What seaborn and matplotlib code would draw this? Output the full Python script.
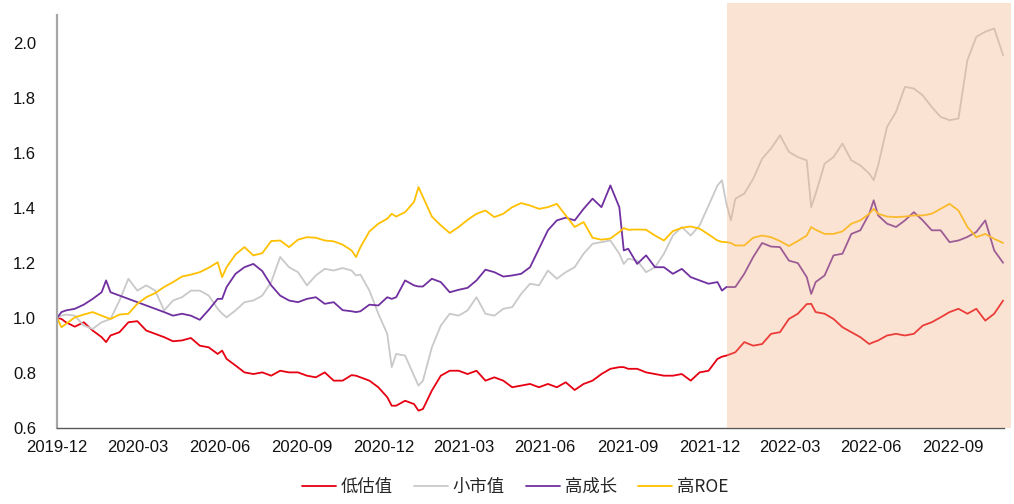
import numpy as np
import pandas as pd
import matplotlib
matplotlib.use("Agg")
import matplotlib.pyplot as plt
import matplotlib.dates as mdates
import seaborn as sns

# ---------------------------------------------------------------------------
# Data (day offsets from 2019-12-31)
# ---------------------------------------------------------------------------
start_date = "2019-12-31"
shade_start = "2022-01-20"

days = [0, 5, 10, 20, 30, 40, 50, 55, 60, 70, 80, 90, 100, 110, 120, 130, 140, 150,
        160, 170, 180, 185, 190, 200, 210, 220, 230, 240, 250, 260, 270, 280, 290,
        300, 310, 320, 330, 335, 340, 350, 360, 370, 375, 380, 390, 400, 405, 410,
        420, 430, 440, 450, 460, 470, 480, 490, 500, 510, 520, 530, 540, 550, 560,
        570, 580, 590, 600, 610, 620, 630, 635, 640, 650, 660, 670, 680, 690, 700,
        710, 720, 730, 740, 745, 750, 755, 760, 770, 780, 790, 800, 810, 820, 830,
        840, 845, 850, 860, 870, 880, 890, 900, 910, 915, 920, 930, 940, 950, 960,
        970, 980, 990, 1000, 1010, 1020, 1030, 1040, 1050, 1060]

low_val = [1.000, 0.996, 0.984, 0.968, 0.984, 0.954, 0.930, 0.912, 0.936, 0.948, 0.984,
           0.988, 0.954, 0.942, 0.930, 0.915, 0.918, 0.927, 0.899, 0.893, 0.869, 0.881,
           0.851, 0.827, 0.802, 0.796, 0.802, 0.790, 0.808, 0.802, 0.802, 0.790, 0.784,
           0.802, 0.772, 0.772, 0.792, 0.790, 0.784, 0.772, 0.748, 0.712, 0.681, 0.681,
           0.699, 0.687, 0.663, 0.669, 0.736, 0.790, 0.808, 0.808, 0.796, 0.808, 0.772,
           0.784, 0.772, 0.748, 0.754, 0.760, 0.748, 0.760, 0.748, 0.766, 0.738, 0.760,
           0.772, 0.796, 0.815, 0.821, 0.821, 0.815, 0.815, 0.802, 0.796, 0.790, 0.790,
           0.796, 0.772, 0.802, 0.808, 0.851, 0.859, 0.863, 0.869, 0.875, 0.912, 0.899,
           0.905, 0.942, 0.948, 0.996, 1.015, 1.050, 1.051, 1.021, 1.015, 0.996, 0.966,
           0.948, 0.930, 0.905, 0.912, 0.918, 0.936, 0.942, 0.936, 0.942, 0.972, 0.984,
           1.002, 1.021, 1.033, 1.015, 1.033, 0.990, 1.015, 1.063]

small_cap = [1.000, 1.008, 1.012, 1.008, 0.972, 0.960, 0.984, 0.990, 0.996, 1.063, 1.142,
             1.099, 1.118, 1.099, 1.027, 1.063, 1.075, 1.099, 1.099, 1.081, 1.033, 1.015,
             1.002, 1.027, 1.057, 1.063, 1.081, 1.130, 1.221, 1.184, 1.166, 1.118, 1.154,
             1.178, 1.172, 1.181, 1.172, 1.154, 1.157, 1.099, 1.015, 0.942, 0.821, 0.869,
             0.863, 0.790, 0.754, 0.772, 0.893, 0.972, 1.015, 1.008, 1.027, 1.075, 1.015,
             1.008, 1.033, 1.039, 1.087, 1.124, 1.118, 1.172, 1.142, 1.166, 1.184, 1.233,
             1.269, 1.275, 1.281, 1.233, 1.196, 1.215, 1.208, 1.166, 1.184, 1.233, 1.299,
             1.330, 1.299, 1.336, 1.408, 1.481, 1.500, 1.415, 1.354, 1.433, 1.451, 1.505,
             1.578, 1.615, 1.663, 1.603, 1.584, 1.572, 1.402, 1.451, 1.560, 1.584, 1.633,
             1.572, 1.554, 1.524, 1.500, 1.554, 1.694, 1.748, 1.839, 1.833, 1.808, 1.766,
             1.730, 1.718, 1.724, 1.936, 2.021, 2.039, 2.051, 1.954]

high_growth = [1.000, 1.021, 1.027, 1.033, 1.048, 1.069, 1.093, 1.136, 1.093, 1.081, 1.069,
               1.057, 1.045, 1.033, 1.021, 1.008, 1.015, 1.008, 0.993, 1.029, 1.069, 1.069,
               1.112, 1.160, 1.184, 1.196, 1.170, 1.118, 1.081, 1.063, 1.057, 1.069, 1.075,
               1.051, 1.057, 1.028, 1.024, 1.021, 1.024, 1.048, 1.045, 1.075, 1.069, 1.075,
               1.136, 1.118, 1.114, 1.114, 1.142, 1.130, 1.093, 1.102, 1.109, 1.136, 1.175,
               1.166, 1.150, 1.154, 1.160, 1.184, 1.251, 1.318, 1.354, 1.364, 1.354, 1.396,
               1.433, 1.402, 1.481, 1.402, 1.245, 1.251, 1.196, 1.227, 1.184, 1.184, 1.160,
               1.178, 1.148, 1.136, 1.124, 1.130, 1.099, 1.112, 1.112, 1.112, 1.160, 1.221,
               1.272, 1.259, 1.257, 1.208, 1.199, 1.148, 1.087, 1.130, 1.154, 1.227, 1.233,
               1.305, 1.318, 1.378, 1.427, 1.372, 1.342, 1.330, 1.354, 1.384, 1.354, 1.318,
               1.318, 1.275, 1.281, 1.294, 1.312, 1.354, 1.245, 1.200]

high_roe = [1.000, 0.966, 0.978, 1.002, 1.012, 1.021, 1.008, 1.002, 0.996, 1.012, 1.015,
            1.051, 1.075, 1.090, 1.112, 1.130, 1.150, 1.157, 1.166, 1.182, 1.202, 1.148,
            1.184, 1.230, 1.257, 1.227, 1.235, 1.279, 1.281, 1.257, 1.284, 1.293, 1.291,
            1.281, 1.278, 1.266, 1.245, 1.221, 1.257, 1.314, 1.342, 1.360, 1.378, 1.368,
            1.384, 1.421, 1.475, 1.439, 1.368, 1.336, 1.308, 1.330, 1.356, 1.378, 1.390,
            1.366, 1.378, 1.402, 1.417, 1.408, 1.396, 1.402, 1.414, 1.372, 1.330, 1.348,
            1.291, 1.284, 1.288, 1.312, 1.326, 1.320, 1.321, 1.320, 1.299, 1.281, 1.315,
            1.327, 1.332, 1.324, 1.303, 1.281, 1.276, 1.275, 1.272, 1.263, 1.263, 1.291,
            1.299, 1.293, 1.279, 1.261, 1.279, 1.299, 1.330, 1.320, 1.305, 1.305, 1.314,
            1.342, 1.354, 1.378, 1.396, 1.378, 1.368, 1.366, 1.368, 1.372, 1.372, 1.378,
            1.396, 1.414, 1.390, 1.330, 1.293, 1.305, 1.287, 1.272]

series_names = ["低估值", "小市值", "高成长", "高ROE"]
series_colors = ["#E60012", "#C9C9C9", "#7030A0", "#FFC000"]
tick_dates = ["2019-12-31", "2020-03-31", "2020-06-30", "2020-09-30", "2020-12-31",
              "2021-03-31", "2021-06-30", "2021-09-30", "2021-12-31", "2022-03-31",
              "2022-06-30", "2022-09-30"]

# ---------------------------------------------------------------------------
# Build long frame
# ---------------------------------------------------------------------------
base = pd.Timestamp(start_date)
dates = base + pd.to_timedelta(days, unit="D")
wide = pd.DataFrame({
    "date": dates,
    series_names[0]: low_val,
    series_names[1]: small_cap,
    series_names[2]: high_growth,
    series_names[3]: high_roe,
})
df = wide.melt(id_vars="date", var_name="series", value_name="value")

# ---------------------------------------------------------------------------
# Plot
# ---------------------------------------------------------------------------
sns.set_style("white")
plt.rcParams["font.family"] = ["Liberation Sans", "Noto Sans CJK SC", "DejaVu Sans"]

fig = plt.figure(figsize=(10.14, 5.04), dpi=100)
ax = fig.add_axes([57 / 1014, 76 / 504, 947 / 1014, 413 / 504])

sns.lineplot(data=df, x="date", y="value", hue="series", hue_order=series_names,
             palette=dict(zip(series_names, series_colors)), estimator=None,
             linewidth=1.3, legend=False, ax=ax, zorder=2)

# shaded out-of-sample period drawn over the lines
ax.axvspan(pd.Timestamp(shade_start), base + pd.Timedelta(days=1069),
           ymin=0, ymax=1.03, color="#F4B183", alpha=0.35, lw=0,
           zorder=3, clip_on=False)

ax.set_xlim(base, base + pd.Timedelta(days=1061))
ax.set_ylim(0.6, 2.1)
ax.set_yticks(np.arange(0.6, 2.01, 0.2))
ax.yaxis.set_major_formatter(plt.FuncFormatter(lambda v, _: f"{v:.1f}"))
ax.set_xticks(pd.to_datetime(tick_dates))
ax.xaxis.set_major_formatter(mdates.DateFormatter("%Y-%m"))
ax.set_xlabel("")
ax.set_ylabel("")

for s in ["top", "right"]:
    ax.spines[s].set_visible(False)
ax.spines["left"].set_color("#A6A6A6")
ax.spines["left"].set_linewidth(1.6)
ax.spines["bottom"].set_color("#595959")
ax.spines["bottom"].set_linewidth(1.0)

ax.tick_params(axis="y", direction="in", length=4, width=0.8, color="#404040",
               labelsize=12, pad=15, labelcolor="#111111")
ax.tick_params(axis="x", direction="in", length=4, width=0.8, color="#595959",
               labelsize=12, pad=9, labelcolor="#111111")

handles = [plt.Line2D([], [], color=c, lw=1.3) for c in series_colors]
fig.legend(handles, series_names, loc="center", bbox_to_anchor=(515 / 1014, 1 - 487 / 504),
           ncol=4, frameon=False, handlelength=2.0, handletextpad=0.25,
           columnspacing=1.2, prop={"family": ["Noto Sans CJK SC"], "size": 12.5})

fig.savefig("out.png", dpi=100)
plt.close(fig)
